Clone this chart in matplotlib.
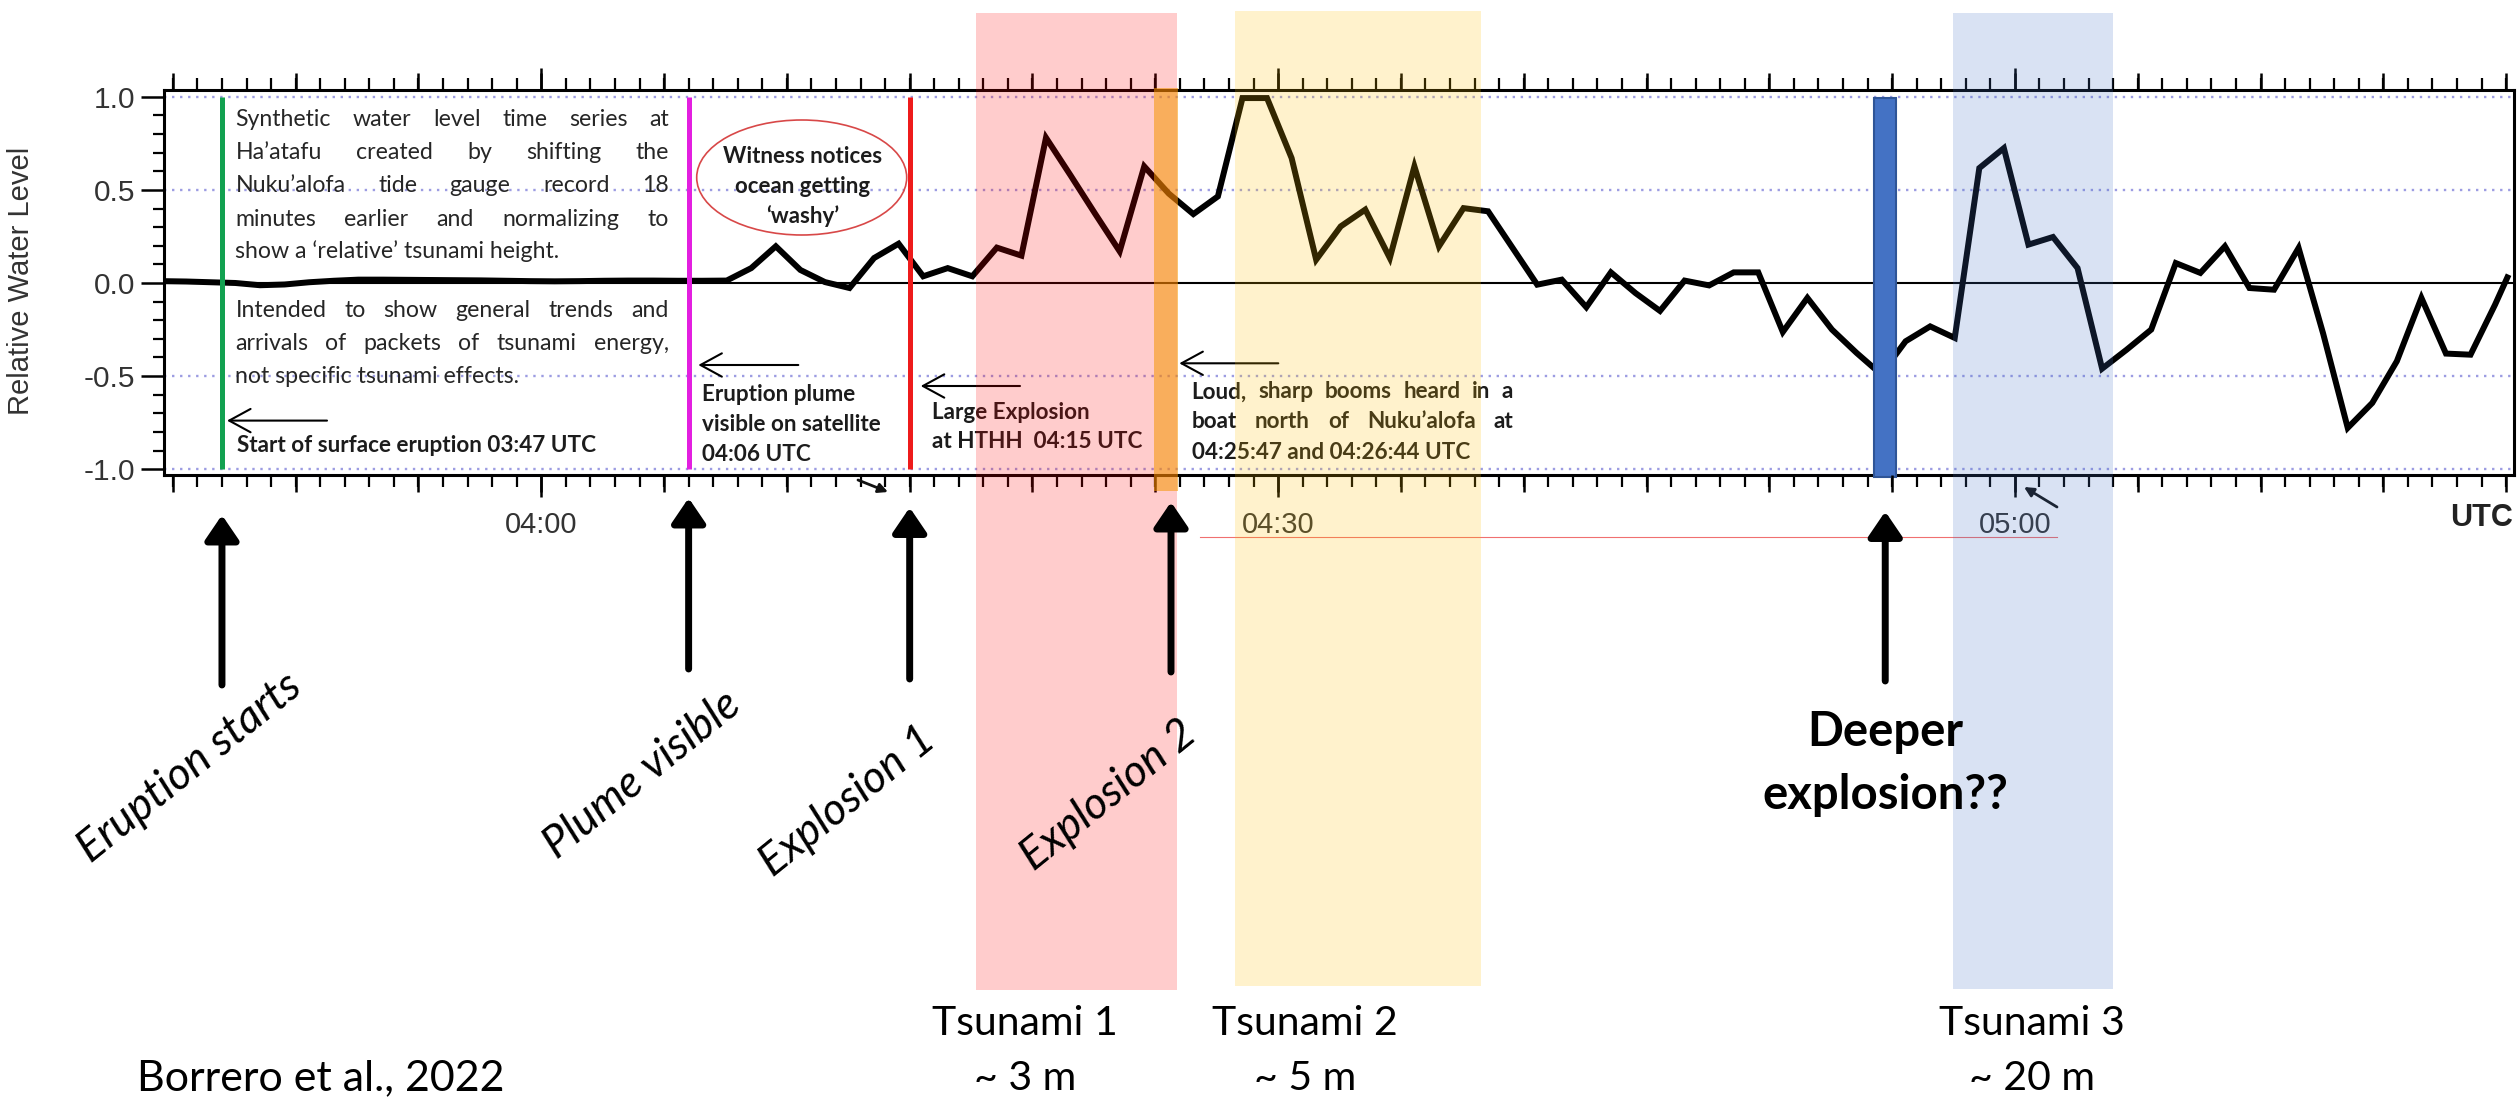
import numpy as np
import matplotlib
matplotlib.use("Agg")
import matplotlib.pyplot as plt
from matplotlib.patches import Rectangle, Ellipse, FancyArrowPatch, ArrowStyle
from matplotlib.lines import Line2D
from matplotlib.transforms import blended_transform_factory
from matplotlib.ticker import MultipleLocator, FixedLocator, FormatStrFormatter

plt.rcParams['font.family'] = ['Liberation Sans', 'DejaVu Sans']

W, H, DPI = 2519, 1097, 100

# ---------------- data ----------------
# sample times: minutes after 04:00 UTC (1-minute samples)
minutes = list(np.round(np.arange(-15.45, 79.6, 1.0), 2)) + [80.05]
water_level = [
    0.010, 0.008, 0.004, 0.000, -0.012, -0.008, 0.004, 0.012, 0.018, 0.018,
    0.017, 0.016, 0.015, 0.014, 0.012, 0.010, 0.009, 0.010, 0.012, 0.013,
    0.013, 0.012, 0.012, 0.013, 0.080, 0.197, 0.070, 0.005, -0.027, 0.134,
    0.211, 0.036, 0.080, 0.036, 0.190, 0.147, 0.780, 0.578, 0.372, 0.170,
    0.626, 0.480, 0.370, 0.465, 0.993, 0.993, 0.671, 0.125, 0.304, 0.394,
    0.134, 0.626, 0.197, 0.402, 0.385, 0.188, -0.009, 0.018, -0.130, 0.057,
    -0.054, -0.150, 0.013, -0.013, 0.057, 0.057, -0.263, -0.080, -0.250, -0.375,
    -0.490, -0.313, -0.233, -0.295, 0.617, 0.724, 0.206, 0.247, 0.080, -0.460,
    -0.358, -0.250, 0.107, 0.054, 0.197, -0.027, -0.036, 0.188, -0.272, -0.778,
    -0.644, -0.420, -0.080, -0.379, -0.385, -0.116, 0.030,
]

tick_minutes = [0, 30, 60]
tick_labels = ["04:00", "04:30", "05:00"]

event_minutes = [-13, 6, 15]          # 03:47, 04:06, 04:15
event_colors = ["#12a150", "#e31fe0", "#ee1b1b"]

arrow_minutes = [-13, 6, 15, 25.64, 54.72]
arrow_labels = ["Eruption starts", "Plume visible", "Explosion 1", "Explosion 2"]

tsunami_names = ["Tsunami 1", "Tsunami 2", "Tsunami 3"]
tsunami_heights = ["~ 3 m", "~ 5 m", "~ 20 m"]
tsunami_windows = [(17.70, 25.89), (28.25, 38.26), (57.48, 63.98)]
tsunami_colors = ["#ff0000", "#ffc000", "#4472c4"]
explosion2_window = (24.95, 25.93)
deep_window = (54.26, 55.16)

para1 = ["Synthetic water level time series at",
         "Ha\u2019atafu created by shifting the",
         "Nuku\u2019alofa tide gauge record 18",
         "minutes earlier and normalizing to",
         "show a \u2018relative\u2019 tsunami height."]
para2 = ["Intended to show general trends and",
         "arrivals of packets of tsunami energy,",
         "not specific tsunami effects."]

# ---------------- figure ----------------
fig = plt.figure(figsize=(W / DPI, H / DPI), dpi=DPI)
ax = fig.add_axes([164 / W, 1 - 475 / H, (2514 - 164) / W, (475 - 89.5) / H])
ax.set_xlim(-15.36, 80.32)
ax.set_ylim(-1.031, 1.039)

def fx(px):
    return px / W

def fy(py):
    return 1 - py / H

# medium (5-min) ticks via twin axes
twin = ax.twiny()
twin.set_xlim(ax.get_xlim())
twin.xaxis.set_major_locator(MultipleLocator(5))
twin.tick_params(axis='x', which='major', direction='out', length=12.2, width=1.8,
                 top=True, bottom=True, labeltop=False, labelbottom=False)
for s in twin.spines.values():
    s.set_visible(False)
twin.patch.set_visible(False)

for v in [-1, -0.5, 0.5, 1]:
    ax.axhline(v, color="#9c9ce2", lw=1.7, ls=(0, (1, 2.4)), zorder=1)
ax.axhline(0, color="black", lw=1.5, zorder=2)
ax.plot(minutes, water_level, color="black", lw=4.3, zorder=3, solid_joinstyle='miter')
ax.vlines(event_minutes, -1.0, 1.0, colors=event_colors, lw=3.6, zorder=4)

ax.bar((deep_window[0] + deep_window[1]) / 2, 2.036, bottom=-1.044,
       width=deep_window[1] - deep_window[0], color="#4472c4", edgecolor="#2f5597",
       lw=1.5, zorder=6, clip_on=False)

for s in ax.spines.values():
    s.set_linewidth(2.2)

ax.xaxis.set_major_locator(FixedLocator(tick_minutes))
ax.set_xticklabels(tick_labels)
ax.xaxis.set_minor_locator(MultipleLocator(1))
ax.tick_params(axis='x', which='major', direction='out', length=15.8, width=1.8,
               top=True, bottom=True, labelsize=21, pad=10, labelcolor="#333333")
ax.tick_params(axis='x', which='minor', direction='out', length=8.6, width=1.6,
               top=True, bottom=True)
ax.yaxis.set_major_locator(MultipleLocator(0.5))
ax.yaxis.set_minor_locator(MultipleLocator(0.1))
ax.yaxis.set_major_formatter(FormatStrFormatter('%.1f'))
ax.tick_params(axis='y', which='major', direction='out', length=16.5, width=1.8,
               left=True, right=False, labelsize=21.5, pad=4, labelcolor="#333333")
ax.tick_params(axis='y', which='minor', direction='out', length=8, width=1.6,
               left=True, right=False)

fig.text(fx(21.5), fy(280.5), "Relative Water Level", rotation=90, ha='center',
         va='center', fontsize=21, color="#333333")
fig.text(fx(2482), fy(518), "UTC", ha='center', va='center', fontsize=22,
         weight='bold', color="#222222")

renderer = fig.canvas.get_renderer()

def place_lines(lines, x0, baselines, fontsize, weight='normal', x1=None,
                justify_upto=0, color="#262626", family='Lato', ha='left'):
    for i, (line, yb) in enumerate(zip(lines, baselines)):
        if x1 is not None and i < justify_upto:
            words = line.split()
            txts = [fig.text(0, 0, w_, fontsize=fontsize, weight=weight, color=color,
                             family=family, va='baseline', ha='left') for w_ in words]
            widths = [t.get_window_extent(renderer=renderer).width for t in txts]
            gap = (x1 - x0 - sum(widths)) / (len(words) - 1)
            x = x0
            for t, wd in zip(txts, widths):
                t.set_position((fx(x), fy(yb)))
                x += wd + gap
        else:
            fig.text(fx(x0), fy(yb), line, fontsize=fontsize, weight=weight,
                     color=color, family=family, va='baseline', ha=ha)

place_lines(para1, 235.4, [126, 158.5, 191.7, 225.5, 258], 16.7, x1=668.8, justify_upto=4)
place_lines(para2, 235.4, [316.7, 350, 383], 16.7, x1=668.8, justify_upto=2)
place_lines(["Start of surface eruption 03:47 UTC"], 237, [451.7], 16.2, weight='bold',
            color="#1c1c1c")
place_lines(["Eruption plume", "visible on satellite", "04:06 UTC"], 701.7,
            [400.7, 430.7, 460.7], 16.2, weight='bold', color="#1c1c1c")
place_lines(["Large Explosion", "at HTHH  04:15 UTC"], 931.7, [419.3, 448.3], 16.2,
            weight='bold', color="#1c1c1c")
place_lines(["Loud, sharp booms heard in a", "boat north of Nuku\u2019alofa at",
             "04:25:47 and 04:26:44 UTC"], 1191.7, [398.3, 428.3, 459.3], 16.2,
            weight='bold', x1=1513.3, justify_upto=2, color="#1c1c1c")
place_lines(["Witness notices", "ocean getting", "\u2018washy\u2019"], 803,
            [162.7, 193.3, 223.3], 16, weight='bold', color="#1c1c1c", ha='center')
fig.add_artist(Ellipse((fx(801.7), fy(177.5)), 210 / W, 115 / H, fill=False,
                       edgecolor="#d84848", lw=1.2, transform=fig.transFigure))

# thin pointer arrows in the panel
for (x_tail, x_head, yy) in [(327, 227, 420.6), (798.3, 698.3, 365),
                             (1020, 920.7, 386), (1278.3, 1179.3, 363.3)]:
    fig.add_artist(FancyArrowPatch(
        (fx(x_tail), fy(yy)), (fx(x_head), fy(yy)), transform=fig.transFigure,
        arrowstyle=ArrowStyle('->', head_length=0.55, head_width=0.3),
        mutation_scale=28, lw=1.5, color='black', shrinkA=0, shrinkB=0))

# translucent bands (data x, figure y) -- cover the chart image only
bt = blended_transform_factory(ax.transData, fig.transFigure)
for (t0, t1), col, (ytop, ybot) in zip(tsunami_windows, tsunami_colors,
                                       [(13, 990), (10.6, 986), (12.6, 989)]):
    fig.add_artist(Rectangle((t0, fy(ybot)), t1 - t0, (ybot - ytop) / H, transform=bt,
                             facecolor=col, alpha=0.2, lw=0, zorder=10))
fig.add_artist(Rectangle((explosion2_window[0], fy(491)),
                         explosion2_window[1] - explosion2_window[0], (491 - 88) / H,
                         transform=bt, facecolor="#f59600", alpha=0.55, lw=0, zorder=11))

# big arrows below the axis (on top of the bands)
arrow_tails = [685, 669, 679, 672, 681]
arrow_tips = [515, 498, 507.5, 502, 511.5]
for t, tail, tip in zip(arrow_minutes, arrow_tails, arrow_tips):
    fig.add_artist(FancyArrowPatch(
        (t, fy(tail)), (t, fy(tip)), transform=bt,
        arrowstyle=ArrowStyle('-|>', head_length=0.5, head_width=0.34),
        mutation_scale=30, lw=5, color='black', shrinkA=0, shrinkB=0, zorder=12))

for lab, (cx, cy) in zip(arrow_labels, [(190, 768), (642, 775), (848, 801), (1109, 795)]):
    fig.text(fx(cx), fy(cy), lab, rotation=39, rotation_mode='anchor', ha='center',
             va='center', fontsize=32, style='italic', family='Lato', color='black',
             zorder=12)

fig.text(fx(1885.5), fy(745.7), "Deeper", ha='center', va='baseline', fontsize=34,
         weight='bold', family='Lato', color='black', zorder=12)
fig.text(fx(1885.5), fy(809), "explosion??", ha='center', va='baseline', fontsize=34,
         weight='bold', family='Lato', color='black', zorder=12)

for name, hgt, cx in zip(tsunami_names, tsunami_heights, [1025, 1305, 2032]):
    fig.text(fx(cx), fy(1035), name, ha='center', va='baseline', fontsize=29.5,
             family='Lato', color='black', zorder=12)
    fig.text(fx(cx), fy(1090), hgt, ha='center', va='baseline', fontsize=29.5,
             family='Lato', color='black', zorder=12)
fig.text(fx(137), fy(1090), "Borrero et al., 2022", ha='left', va='baseline',
         fontsize=31, family='Lato', color='black', zorder=12)

# faint artefacts of the pasted source figure
fig.add_artist(Line2D([fx(1200), fx(2057)], [fy(537), fy(537)], color="#f07070", lw=0.8,
                      transform=fig.transFigure))
for (xa, ya, xb, yb) in [(858, 480, 888, 492), (2057, 507, 2024, 487)]:
    fig.add_artist(FancyArrowPatch(
        (fx(xa), fy(ya)), (fx(xb), fy(yb)), transform=fig.transFigure,
        arrowstyle='-|>', mutation_scale=14, lw=2, color='#111111', shrinkA=0, shrinkB=0))

fig.savefig("out.png", dpi=DPI, facecolor='white')
